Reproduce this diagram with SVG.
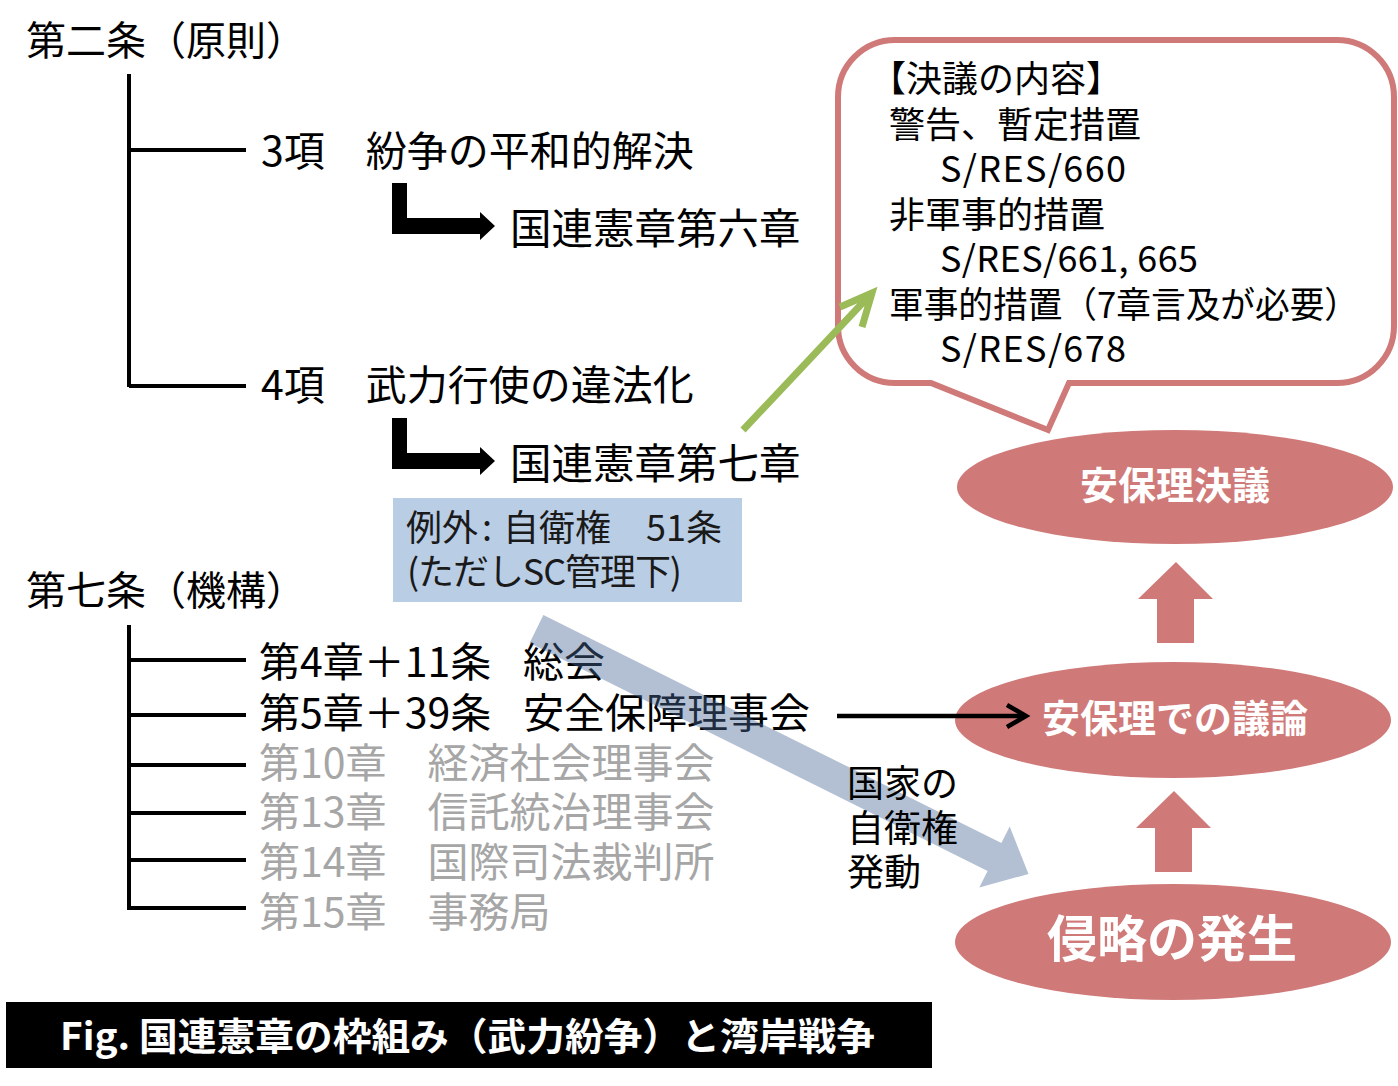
<svg xmlns="http://www.w3.org/2000/svg" width="1398" height="1086" viewBox="0 0 1398 1086">
  <style>
    text { font-family: "Noto Sans CJK JP", "Noto Sans", sans-serif; }
    .h { font-size: 40px; fill: #000; }
    .t { font-size: 41px; fill: #000; }
    .g { font-size: 41px; fill: #a6a6a6; }
    .c { font-size: 36px; fill: #000; }
    .b { font-size: 36px; fill: #1a1a1a; }
    .e { font-size: 38px; fill: #fff; font-weight: 700; text-anchor: middle; }
    .tree { stroke: #000; stroke-width: 4; fill: none; }
    .oval { fill: #cf7a78; }
    .up { fill: #cf7a78; }
  </style>

  <!-- Article 2 tree -->
  <g id="art2">
    <text class="h" x="26" y="55">第二条（原則）</text>
    <path class="tree" d="M129,74 V387 M129,150 H246 M129,386 H246"/>
  </g>
  <g id="art2-3">
    <text class="t" x="261" y="166">3項　紛争の平和的解決</text>
  </g>
  <g id="ch6">
    <text class="t" x="510" y="244" style="font-size:41.5px">国連憲章第六章</text>
  </g>
  <g id="art2-4">
    <text class="t" x="261" y="400">4項　武力行使の違法化</text>
  </g>
  <g id="ch7">
    <text class="t" x="510" y="479" style="font-size:41.5px">国連憲章第七章</text>
  </g>

  <!-- exception box -->
  <g id="exception">
    <rect x="393" y="498" width="349" height="104" fill="#b9cde5"/>
    <text class="b" x="406" y="541">例外<tspan x="482">:</tspan><tspan x="503">自衛権　</tspan><tspan x="646">51条</tspan></text>
    <text class="b" x="407" y="585" textLength="275" lengthAdjust="spacing">(ただしSC管理下)</text>
  </g>

  <!-- Article 7 tree -->
  <g id="art7">
    <text class="h" x="26" y="605">第七条（機構）</text>
    <path class="tree" d="M129,625 V910 M129,660 H246 M129,715 H246 M129,765 H246 M129,813 H246 M129,860 H246 M129,908 H246"/>
  </g>
  <g id="ga"><text class="t" x="259" y="677">第4章＋11条　<tspan x="523">総会</tspan></text></g>
  <g id="sc"><text class="t" x="259" y="728">第5章＋39条　<tspan x="523">安全保障理事会</tspan></text></g>
  <g id="ecosoc"><text class="g" x="259" y="778">第10章　経済社会理事会</text></g>
  <g id="trust"><text class="g" x="259" y="827">第13章　信託統治理事会</text></g>
  <g id="icj"><text class="g" x="259" y="877">第14章　国際司法裁判所</text></g>
  <g id="secretariat"><text class="g" x="259" y="927">第15章　事務局</text></g>

  <!-- callout -->
  <g id="callout">
    <path d="M895,40 H1337 A57,57 0 0 1 1394,97 V326 A57,57 0 0 1 1337,383 H1069 L1048,430 L931,383 H895 A57,57 0 0 1 838,326 V97 A57,57 0 0 1 895,40 Z" fill="#fff" stroke="#cf7a78" stroke-width="6"/>
    <text class="c" x="870" y="92">【決議の内容】</text>
    <text class="c" x="889" y="138">警告、暫定措置</text>
    <text class="c" x="940" y="182" textLength="186" lengthAdjust="spacing">S/RES/660</text>
    <text class="c" x="889" y="228">非軍事的措置</text>
    <text class="c" x="940" y="272" textLength="258" lengthAdjust="spacing">S/RES/661, 665</text>
    <text class="c" x="889" y="318" textLength="470" lengthAdjust="spacingAndGlyphs">軍事的措置（7章言及が必要）</text>
    <text class="c" x="940" y="362" textLength="186" lengthAdjust="spacing">S/RES/678</text>
  </g>

  <!-- right-hand flow -->
  <g id="resolution">
    <ellipse class="oval" cx="1175" cy="487" rx="218" ry="57"/>
    <text class="e" x="1175" y="499">安保理決議</text>
  </g>
  <g id="debate">
    <ellipse class="oval" cx="1173" cy="720" rx="218" ry="58"/>
    <text class="e" x="1175" y="732">安保理での議論</text>
  </g>
  <g id="aggression">
    <ellipse class="oval" cx="1173" cy="942" rx="218" ry="58"/>
    <text class="e" x="1172" y="957" style="font-size:50px">侵略の発生</text>
  </g>

  <!-- connectors -->
  <g id="connectors">
    <polygon points="392,183 407,183 407,218 480,218 480,212 495,226 480,240 480,234 392,234" fill="#000"/>
    <polygon points="392,418 407,418 407,453 480,453 480,447 495,461 480,475 480,469 392,469" fill="#000"/>
    <polygon points="543.4,615.1 1001.4,843.1 1009.7,826.6 1028.5,874 979.3,887.4 987.6,870.9 529.6,642.9" fill="#4a6a96" fill-opacity="0.42"/>
    <path d="M837,716 H1024 M1007,705 L1026,716 L1007,727" fill="none" stroke="#000" stroke-width="4.5"/>
    <path d="M743,430 L870,295 M840,307 L872,293 L862,327" fill="none" stroke="#9bbb59" stroke-width="7"/>
    <polygon class="up" points="1176,562 1213,599 1194,599 1194,643 1157,643 1157,599 1138,599"/>
    <polygon class="up" points="1174,791 1211,828 1192,828 1192,872 1155,872 1155,828 1136,828"/>
  </g>

  <g id="selfdefense-label">
    <text class="c" x="847" y="797" style="font-size:37px">国家の</text>
    <text class="c" x="847" y="842" style="font-size:37px">自衛権</text>
    <text class="c" x="847" y="886" style="font-size:37px">発動</text>
  </g>

  <!-- caption -->
  <g id="caption">
    <rect x="6" y="1002" width="926" height="66" fill="#000"/>
    <text x="60" y="1050" fill="#fff" font-weight="700" font-size="38" textLength="815" lengthAdjust="spacingAndGlyphs">Fig. 国連憲章の枠組み（武力紛争）と湾岸戦争</text>
  </g>
</svg>
